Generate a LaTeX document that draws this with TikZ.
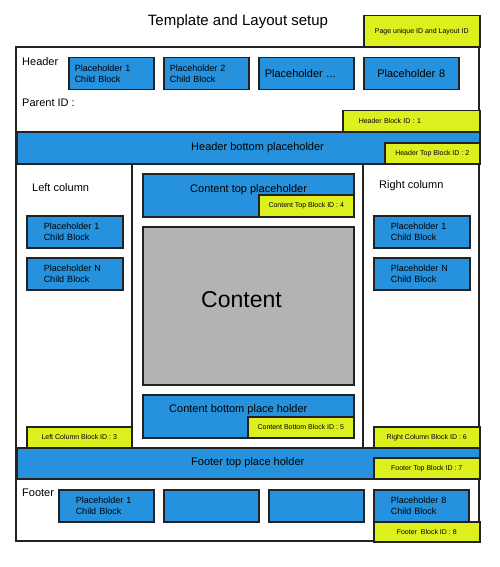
\documentclass[tikz,border=0pt]{standalone}
\usepackage{fontspec}
\setmainfont{Liberation Sans}
\usetikzlibrary{positioning}
\definecolor{phblue}{RGB}{38,145,220}
\definecolor{idgreen}{RGB}{220,240,30}
\definecolor{ctgray}{RGB}{179,179,179}
\definecolor{edge}{RGB}{34,34,34}
\tikzset{
  block/.style={draw=edge, line width=1.5pt},
  ph/.style={block, fill=phblue, font=\fontsize{9}{11}\selectfont, align=left,
    anchor=north west, minimum height=32pt, inner ysep=0pt},
  hph/.style={ph, inner xsep=6pt, text width=#1},
  cph/.style={ph, inner xsep=17pt, text width=#1},
  band/.style={block, fill=phblue, anchor=north west, inner sep=0pt},
  idtag/.style={block, fill=idgreen, font=\fontsize{7}{8}\selectfont,
    anchor=north west, inner sep=0pt},
  lbl/.style={font=\fontsize{11}{13}\selectfont, inner sep=0pt, anchor=west},
}

\begin{document}
\begin{tikzpicture}[x=1pt, y=-1pt]
 \useasboundingbox (0,0) rectangle (500,567);
 \node (title) at (238,22) {\fontsize{15}{18}\selectfont Template and Layout setup};
 \node[idtag, minimum width=116pt, minimum height=32pt] (pageid) at (363,15) {Page unique ID and Layout ID};
 % page frame
 \draw[block, line width=1.4pt] (16,47) rectangle (479,541);

 % header
 \node[lbl] (header) at (22,62) {Header};
 \node[hph=73pt] (hp1) at (68,57) {Placeholder 1\\Child Block};
 \node[hph=73pt, right=8.5pt of hp1] (hp2) {Placeholder 2\\Child Block};
 \node[hph=83pt, right=8.5pt of hp2, font=\fontsize{11}{13}\selectfont] (hp3) {Placeholder ...};
 \node[hph=83pt, right=8.5pt of hp3, align=center, font=\fontsize{11}{13}\selectfont] (hp8) {Placeholder 8};
 \node[lbl] (parent) at (22,103) {Parent ID :};
 \node[idtag, minimum height=21pt, inner xsep=16pt, text width=105pt, align=left] (hdrid) at (342,110) {Header Block ID : 1};
 \node[band, minimum width=463pt, minimum height=32pt] (hband) at (16,131) {};
 \node[lbl, right=175pt of hband.west] (hbandtxt) {Header bottom placeholder};
 \node[idtag, minimum width=95pt, minimum height=21pt] (hdrtopid) at (384,142) {Header Top Block ID : 2};

 % columns
 \draw[block] (132,163) -- (132,447);
 \draw[block] (363,163) -- (363,447);
 \node[lbl] (lcol) at (32,188) {Left column};
 \node[lbl] (rcol) at (379,186) {Right column};
 \node[cph=62pt] (lp1) at (26,215) {Placeholder 1\\Child Block};
 \node[cph=62pt, below=8.5pt of lp1] (lpn) {Placeholder N\\Child Block};
 \node[cph=62pt] (rp1) at (373,215) {Placeholder 1\\Child Block};
 \node[cph=62pt, below=8.5pt of rp1] (rpn) {Placeholder N\\Child Block};
 \node[idtag, minimum width=105pt, minimum height=21pt] (lcolid) at (26,426) {Left Column Block ID : 3};
 \node[idtag, minimum width=106pt, minimum height=21pt] (rcolid) at (373,426) {Right Column Block ID : 6};

 % content
 \node[band, minimum width=211pt, minimum height=43pt] (ctop) at (142,173) {};
 \node[lbl, right=48pt of ctop.west, yshift=6pt] (ctoptxt) {Content top placeholder};
 \node[idtag, minimum width=95pt, minimum height=22pt] (ctopid) at (258,194) {Content Top Block ID : 4};
 \node[block, fill=ctgray, anchor=north west, minimum width=211pt, minimum height=158pt, inner sep=0pt] (content) at (142,226) {};
 \node[lbl, font=\fontsize{23}{27}\selectfont, right=59pt of content.west, yshift=6pt] (contenttxt) {Content};
 \node[band, minimum width=211pt, minimum height=43pt] (cbot) at (142,394) {};
 \node[lbl, right=27pt of cbot.west, yshift=7pt] (cbottxt) {Content bottom place holder};
 \node[idtag, minimum width=106pt, minimum height=21pt] (cbotid) at (247,416) {Content Bottom Block ID : 5};

 % footer
 \node[band, minimum width=463pt, minimum height=31pt] (fband) at (16,447) {};
 \node[lbl, right=175pt of fband.west, yshift=1pt] (fbandtxt) {Footer top place holder};
 \node[idtag, minimum width=106pt, minimum height=21pt] (ftopid) at (373,457) {Footer Top Block ID : 7};
 \node[lbl] (footer) at (22,493) {Footer};
 \node[cph=61pt] (fp1) at (58,489) {Placeholder 1\\Child Block};
 \node[cph=61pt, right=8.5pt of fp1] (fp2) {};
 \node[cph=61pt, right=8.5pt of fp2] (fp3) {};
 \node[cph=61pt, right=8.5pt of fp3] (fp8) {Placeholder 8\\Child Block};
 \node[idtag, minimum width=106pt, minimum height=20pt] (ftrid) at (373,521) {Footer\ \ Block ID : 8};
\end{tikzpicture}
\end{document}
